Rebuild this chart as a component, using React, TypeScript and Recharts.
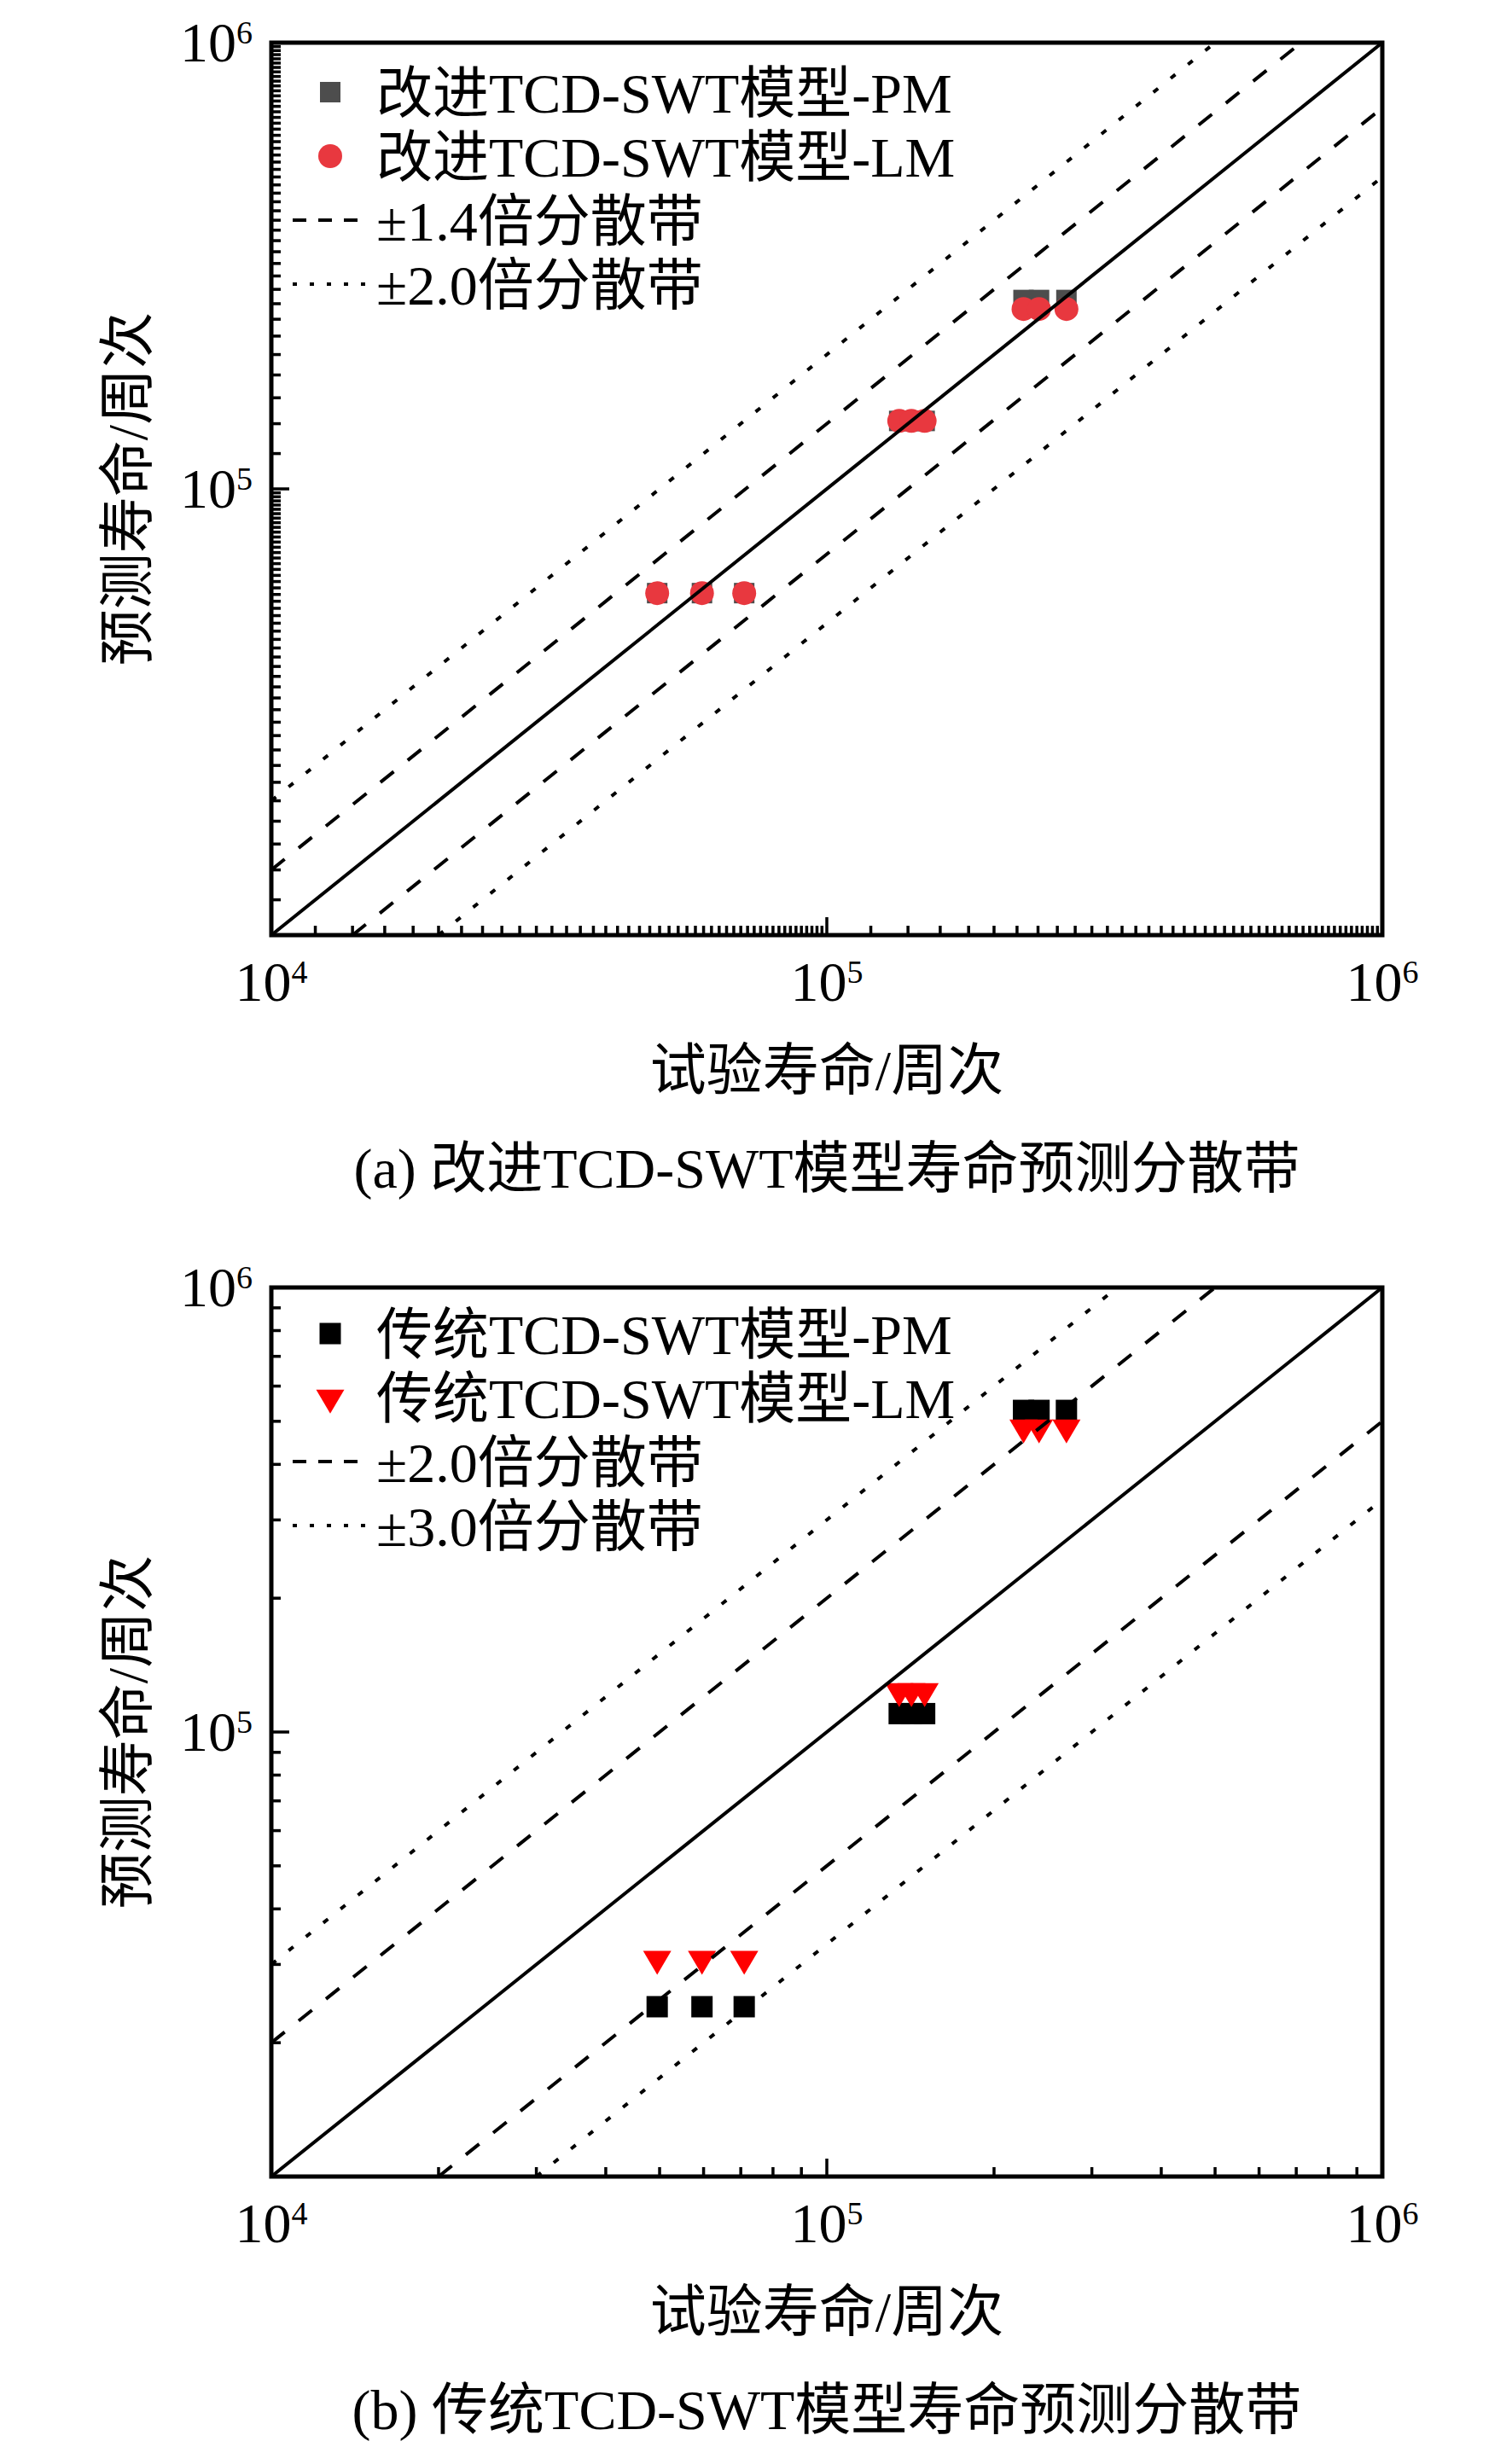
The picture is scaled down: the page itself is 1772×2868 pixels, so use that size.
import React from 'react';
import { ComposedChart, Scatter, XAxis, YAxis, ReferenceArea, Legend } from 'recharts';

const FONT = '"Liberation Serif", "Times New Roman", "Noto Sans CJK SC", serif';
const FS = 66;

// experimental life (x) shared by every series
const testLife = [49500, 59600, 71000, 135000, 142000, 150000, 226000, 241000, 270000];
// (a) improved TCD-SWT model predictions
const improvedPM = [58400, 58400, 58400, 142000, 142000, 142000, 265000, 265000, 265000];
const improvedLM = [58400, 58400, 58400, 142000, 142000, 142000, 253000, 253000, 253000];
// (b) traditional TCD-SWT model predictions
const traditionalPM = [24100, 24100, 24100, 110000, 110000, 110000, 529000, 529000, 529000];
const traditionalLM = [30900, 30900, 30900, 123600, 123600, 123600, 484000, 484000, 484000];

// scatter band factors [dashed, dotted]
const bandsA = [1.4, 2.0];
const bandsB = [2.0, 3.0];

const AXIS_MIN = 10000;
const AXIS_MAX = 1000000;
const majorTicks = [10000, 100000, 1000000];
const xTickLabels = [10000, 100000, 1000000];
const yTickLabels = [100000, 1000000];
const decades = [10000, 100000];

const legendA = ['改进TCD-SWT模型-PM', '改进TCD-SWT模型-LM', '±1.4倍分散带', '±2.0倍分散带'];
const legendB = ['传统TCD-SWT模型-PM', '传统TCD-SWT模型-LM', '±2.0倍分散带', '±3.0倍分散带'];
const xTitle = '试验寿命/周次';
const yTitle = '预测寿命/周次';
const captionA = '(a) 改进TCD-SWT模型寿命预测分散带';
const captionB = '(b) 传统TCD-SWT模型寿命预测分散带';

// minor tick positions
const fineMinor: number[] = [];
decades.forEach((d) => {
  for (let i = 6; i <= 49; i++) fineMinor.push((i * d) / 5);
});
const coarseMinor: number[] = [];
decades.forEach((d) => {
  for (let i = 2; i <= 9; i++) coarseMinor.push(i * d);
});

const near = (a: number, b: number) => Math.abs(a - b) < 1e-6 * b;
const isMajor = (v: number) => majorTicks.some((m) => near(v, m));
const expOf = (v: number) => Math.round(Math.log10(v));

const DASH = '20 21';
const DOT = '7 19';

// marker shapes
const squareMark = (color: string, s: number) => (cx: number, cy: number) => (
  <rect x={cx - s / 2} y={cy - s / 2} width={s} height={s} fill={color} />
);
const circleMark = (color: string, r: number) => (cx: number, cy: number) => (
  <circle cx={cx} cy={cy} r={r} fill={color} />
);
const triDownMark = (color: string, w: number, h: number) => (cx: number, cy: number) => (
  <path
    d={`M${cx - w / 2},${cy - h / 3} L${cx + w / 2},${cy - h / 3} L${cx},${cy + (2 * h) / 3} Z`}
    fill={color}
  />
);

const NoMark = () => <g />;

function makeXTick(minorLen: number, majorLen: number) {
  return (props: any) => {
    const { x, y, payload } = props;
    const v = payload.value;
    const major = isMajor(v);
    const lab = xTickLabels.some((m) => near(v, m));
    return (
      <g>
        <line x1={x} x2={x} y1={y} y2={y - (major ? majorLen : minorLen)} stroke="#000" strokeWidth={3.5} />
        {lab && (
          <text x={x} y={y + 77} textAnchor="middle" fontFamily={FONT} fontSize={FS} fill="#000">
            <tspan>10</tspan>
            <tspan dy={-21} fontSize={38}>
              {expOf(v)}
            </tspan>
          </text>
        )}
      </g>
    );
  };
}

function makeYTick(minorLen: number, majorLen: number) {
  return (props: any) => {
    const { x, y, payload } = props;
    const v = payload.value;
    const major = isMajor(v);
    const lab = yTickLabels.some((m) => near(v, m));
    return (
      <g>
        <line x1={x} x2={x + (major ? majorLen : minorLen)} y1={y} y2={y} stroke="#000" strokeWidth={3.5} />
        {lab && (
          <text x={x - 22} y={y + 22} textAnchor="end" fontFamily={FONT} fontSize={FS} fill="#000">
            <tspan>10</tspan>
            <tspan dy={-21} fontSize={38}>
              {expOf(v)}
            </tspan>
          </text>
        )}
      </g>
    );
  };
}

function bandLine(k: number, upper: boolean) {
  return upper
    ? [
        { x: AXIS_MIN, y: AXIS_MIN * k },
        { x: AXIS_MAX / k, y: AXIS_MAX },
      ]
    : [
        { x: AXIS_MIN * k, y: AXIS_MIN },
        { x: AXIS_MAX, y: AXIS_MAX / k },
      ];
}

type PanelProps = {
  top: number;
  height: number;
  plotH: number;
  pm: number[];
  lm: number[];
  pmMark: (cx: number, cy: number) => React.ReactElement;
  lmMark: (cx: number, cy: number) => React.ReactElement;
  bands: number[];
  legendTexts: string[];
  legendY0: number;
  caption: string;
  minorTicks: number[];
  minorLen: number;
};

function Panel(p: PanelProps) {
  const H = p.height;
  const mTop = 50;
  const axisH = 100;
  const mBottom = H - mTop - p.plotH - axisH;
  const pmData = testLife.map((x, i) => ({ x, y: p.pm[i] }));
  const lmData = testLife.map((x, i) => ({ x, y: p.lm[i] }));
  const diag = [
    { x: AXIS_MIN, y: AXIS_MIN },
    { x: AXIS_MAX, y: AXIS_MAX },
  ];
  const ticks = [...majorTicks, ...p.minorTicks].sort((a, b) => a - b);
  const XTick = makeXTick(p.minorLen, 21);
  const YTick = makeYTick(p.minorLen, 21);

  const legendContent = () => {
    const rows = [0, 1, 2, 3].map((i) => p.legendY0 + 75 * i);
    return (
      <svg width={1000} height={420} style={{ display: 'block', overflow: 'visible' }}>
        {p.pmMark(387, rows[0])}
        {p.lmMark(387, rows[1])}
        <line x1={343} x2={429} y1={rows[2]} y2={rows[2]} stroke="#000" strokeWidth={4} strokeDasharray="16 14" />
        <line x1={343} x2={429} y1={rows[3]} y2={rows[3]} stroke="#000" strokeWidth={4} strokeDasharray="5 15" />
        {p.legendTexts.map((t, i) => (
          <text key={i} x={441} y={rows[i] + 24} fontFamily={FONT} fontSize={FS} fill="#000">
            {t}
          </text>
        ))}
      </svg>
    );
  };

  const xLabel = (lp: any) => {
    const vb = lp.viewBox;
    const cx = vb.x + vb.width / 2;
    return (
      <g>
        <text x={cx} y={vb.y + 157 + 24} textAnchor="middle" fontFamily={FONT} fontSize={FS} fill="#000">
          {xTitle}
        </text>
        <text x={cx} y={vb.y + 272 + 24} textAnchor="middle" fontFamily={FONT} fontSize={FS} fill="#000">
          {p.caption}
        </text>
      </g>
    );
  };

  const yLabel = (lp: any) => {
    const vb = lp.viewBox;
    const cx = 148;
    const cy = vb.y + vb.height / 2;
    return (
      <text
        x={cx}
        y={cy + 24}
        textAnchor="middle"
        fontFamily={FONT}
        fontSize={FS}
        fill="#000"
        transform={`rotate(-90, ${cx}, ${cy})`}
      >
        {yTitle}
      </text>
    );
  };

  return (
    <div style={{ position: 'absolute', left: 0, top: p.top, width: 1772, height: H }}>
      <ComposedChart
        width={1772}
        height={H}
        margin={{ top: mTop, right: 152, left: 218, bottom: mBottom }}
        style={{ fontFamily: FONT }}
      >
        <XAxis
          type="number"
          dataKey="x"
          scale="log"
          domain={[AXIS_MIN, AXIS_MAX]}
          allowDataOverflow
          ticks={ticks}
          interval={0}
          tickSize={0}
          tickMargin={0}
          tickLine={false}
          axisLine={false}
          tick={XTick}
          height={axisH}
          label={xLabel}
        />
        <YAxis
          type="number"
          dataKey="y"
          scale="log"
          domain={[AXIS_MIN, AXIS_MAX]}
          allowDataOverflow
          ticks={ticks}
          interval={0}
          tickSize={0}
          tickMargin={0}
          tickLine={false}
          axisLine={false}
          tick={YTick}
          width={100}
          label={yLabel}
        />
        <ReferenceArea
          x1={AXIS_MIN}
          x2={AXIS_MAX}
          y1={AXIS_MIN}
          y2={AXIS_MAX}
          fill="none"
          fillOpacity={0}
          stroke="#000"
          strokeWidth={5}
          ifOverflow="visible"
        />
        <Scatter data={pmData} isAnimationActive={false} shape={(s: any) => p.pmMark(s.cx, s.cy)} />
        <Scatter data={lmData} isAnimationActive={false} shape={(s: any) => p.lmMark(s.cx, s.cy)} />
        <Scatter data={diag} isAnimationActive={false} shape={NoMark} line={{ stroke: '#000', strokeWidth: 4 }} />
        <Scatter data={bandLine(p.bands[0], true)} isAnimationActive={false} shape={NoMark} line={{ stroke: '#000', strokeWidth: 4, strokeDasharray: DASH }} />
        <Scatter data={bandLine(p.bands[0], false)} isAnimationActive={false} shape={NoMark} line={{ stroke: '#000', strokeWidth: 4, strokeDasharray: DASH }} />
        <Scatter data={bandLine(p.bands[1], true)} isAnimationActive={false} shape={NoMark} line={{ stroke: '#000', strokeWidth: 4, strokeDasharray: DOT }} />
        <Scatter data={bandLine(p.bands[1], false)} isAnimationActive={false} shape={NoMark} line={{ stroke: '#000', strokeWidth: 4, strokeDasharray: DOT }} />
        <Legend
          layout="vertical"
          align="center"
          verticalAlign="middle"
          wrapperStyle={{ left: 0, top: 0, width: 1000, height: 420 }}
          content={legendContent}
        />
      </ComposedChart>
    </div>
  );
}

export default function App() {
  return (
    <div style={{ position: 'absolute', left: 0, top: 0, width: 1772, height: 2868, background: '#fff' }}>
      <Panel
        top={0}
        height={1440}
        plotH={1046}
        pm={improvedPM}
        lm={improvedLM}
        pmMark={squareMark('#4d4d4d', 24)}
        lmMark={circleMark('#e8383f', 14)}
        bands={bandsA}
        legendTexts={legendA}
        legendY0={108}
        caption={captionA}
        minorTicks={fineMinor}
        minorLen={11}
      />
      <Panel
        top={1459}
        height={1409}
        plotH={1042}
        pm={traditionalPM}
        lm={traditionalLM}
        pmMark={squareMark('#000', 25)}
        lmMark={triDownMark('#ff0000', 33, 28)}
        bands={bandsB}
        legendTexts={legendB}
        legendY0={104}
        caption={captionB}
        minorTicks={coarseMinor}
        minorLen={11}
      />
    </div>
  );
}
